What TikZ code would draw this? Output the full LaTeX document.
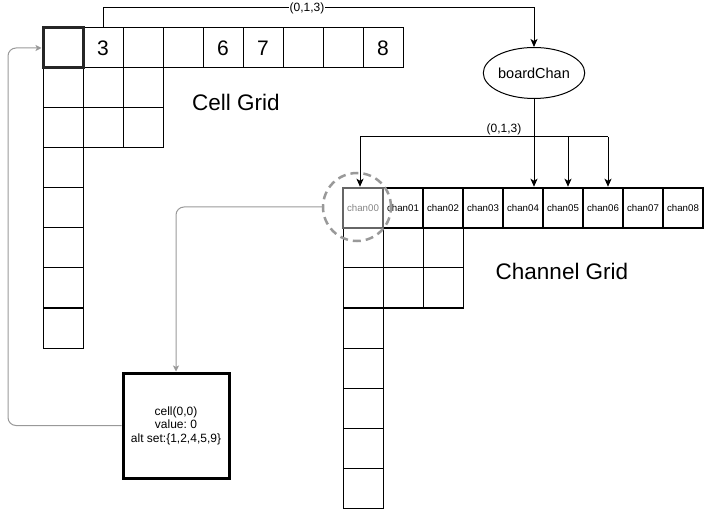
\documentclass[tikz,border=0pt]{standalone}
\usepackage{fontspec}
\setmainfont{Liberation Sans}
\usetikzlibrary{arrows.meta,shapes.geometric}
\definecolor{lgray}{HTML}{999999}
\definecolor{dgray}{HTML}{666666}
\frenchspacing
\begin{document}
\begin{tikzpicture}[x=1pt,y=-1pt,
  cellbox/.style={draw,line width=1pt,minimum size=40pt,inner sep=0pt,font=\fontsize{21}{21}\selectfont},
  chanbox/.style={draw,line width=2.5pt,minimum size=40pt,inner sep=0pt,font=\fontsize{9.7}{10}\selectfont},
  thinbox/.style={draw,line width=1pt,minimum size=40pt,inner sep=0pt},
  arr/.style={line width=1pt,-{Stealth[length=8pt,width=7pt,inset=2pt]}},
  grayarr/.style={draw=lgray,line width=1pt,rounded corners=8pt,-{Stealth[length=6pt,width=6pt,inset=1.5pt]},color=lgray},
  lbl/.style={font=\fontsize{12}{12}\selectfont,inner sep=1pt},
  title/.style={font=\fontsize{22.5}{22.5}\selectfont}]
\useasboundingbox (0,0) rectangle (706,510);
% ---- Cell grid ----
\foreach \i/\t in {1/3,2/,3/,4/6,5/7,6/,7/,8/8}
  \node[cellbox] (c\i) at ({63+40*\i},48) {\t};
\foreach \j in {1,...,7}
  \node[thinbox] (cc\j) at (63,{48+40*\j}) {};
\node[thinbox] (cx1) at (103,88) {};
\node[thinbox] (cx2) at (143,88) {};
\node[thinbox] (cx3) at (103,128) {};
\node[thinbox] (cx4) at (143,128) {};
\node[draw=black!85,line width=3pt,minimum size=40pt,inner sep=0pt] (c0) at (63,48) {};
\node[title] (cgl) at (236,102) {Cell Grid};
% ---- Channel grid ----
\foreach \j in {1,...,7}
  \node[thinbox] (hc\j) at (363,{208+40*\j}) {};
\node[thinbox] (hx1) at (403,248) {};
\node[thinbox] (hx2) at (443,248) {};
\node[thinbox] (hx3) at (403,288) {};
\node[thinbox] (hx4) at (443,288) {};
\foreach \i in {1,...,8}
  \node[chanbox] (h\i) at ({363+40*\i},208) {chan0\i};
\node[chanbox,draw=dgray,text=dgray!80] (h0) at (363,208) {chan00};
\node[title] (chl) at (562,271) {Channel Grid};
% ---- boardChan ----
\node[ellipse,draw,line width=1pt,minimum width=85pt,minimum height=51pt,inner sep=0pt,font=\fontsize{14.5}{15}\selectfont] (bc) at (534,73) {boardChan};
\coordinate (tc) at (103,8);
\draw[arr] (c1.north) -- (tc) -| (bc.north);
\node[lbl,fill=white] (l1) at (307,8) {(0,1,3)};
\coordinate (sp) at (534,137);
\coordinate (sl) at (360,137);
\coordinate (sr) at (608,137);
\coordinate (s5) at (568,137);
\draw[line width=1pt] (bc.south) -- (sp);
\draw[line width=1pt] (sl) -- (sr);
\draw[arr] (sl) -- (sl |- h0.north);
\draw[arr] (sp) -- (sp |- h4.north);
\draw[arr] (s5) -- (s5 |- h5.north);
\draw[arr] (sr) -- (sr |- h6.north);
\node[lbl] (l2) at (504,129) {(0,1,3)};
% ---- highlight & cell box ----
\node[circle,draw=lgray,dash pattern=on 8pt off 5pt,line width=2.5pt,minimum size=68pt,inner sep=0pt] (hl) at (357,207) {};
\node[draw,line width=3pt,minimum width=106pt,minimum height=105pt,align=center,inner sep=0pt,font=\fontsize{12}{13.5}\selectfont] (cb) at (176,425.5) {cell(0,0)\\value: 0\\alt set:\{1,2,4,5,9\}};
\draw[grayarr] (hl.west) -| (cb.north);
\coordinate (lc) at (8,48);
\draw[grayarr] (cb.west) -| (lc) -- (c0.west);
\end{tikzpicture}
\end{document}
